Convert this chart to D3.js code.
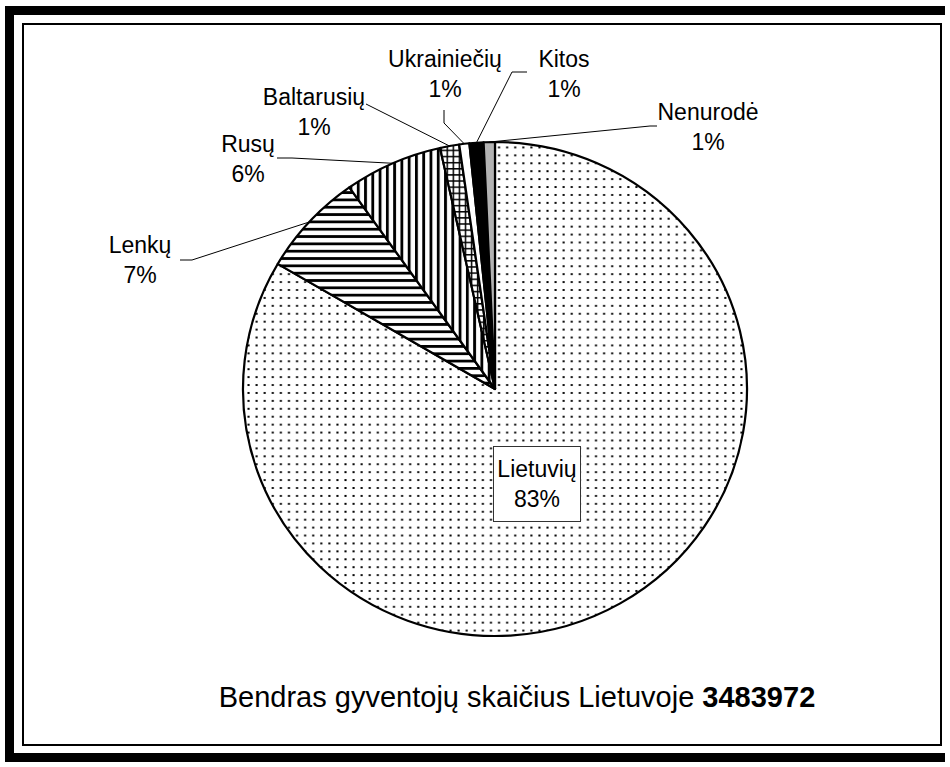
<!DOCTYPE html>
<html>
<head>
<meta charset="utf-8">
<script src="https://cdn.jsdelivr.net/npm/d3@7"></script>
<style>
  body { margin: 0; background: #fff; }
  text { font-family: 'Liberation Sans', Arial, sans-serif; fill: #000; }
</style>
</head>
<body>
<script>
const groups = ['Lietuvių', 'Lenkų', 'Rusų', 'Baltarusių', 'Ukrainiečių', 'Kitos', 'Nenurodė']
const shares = [83.45, 6.74, 6.31, 1.23, 0.65, 0.9, 0.72]
const total = 3483972
const titleText = 'Bendras gyventojų skaičius Lietuvoje '

const W = 950
const H = 767
const cx = 495
const cy = 389
const r = 249.5
const sx = 1.01
const sy = 0.99

// label layout: x, first baseline, leader start points
const labelPos = {
  'Lenkų': { x: 140, y: 253, lead: [[180, 260], [192, 260]] },
  'Rusų': { x: 248, y: 152, lead: [[277, 158], [292, 158]] },
  'Baltarusių': { x: 314, y: 105, lead: [[366, 104]] },
  'Ukrainiečių': { x: 445, y: 67, lead: [[444, 110], [444, 123]] },
  'Kitos': { x: 564, y: 67, lead: [[527, 72], [512, 72]] },
  'Nenurodė': { x: 708, y: 120, lead: [[657, 126], [650, 126]] }
}

const fills = {
  'Lietuvių': 'url(#dots)',
  'Lenkų': 'url(#hlines)',
  'Rusų': 'url(#vlines)',
  'Baltarusių': 'url(#grid)',
  'Ukrainiečių': '#fff',
  'Kitos': '#000',
  'Nenurodė': '#b3b3b3'
}

const svg = d3.select('body').append('svg')
  .attr('width', W)
  .attr('height', H)

const defs = svg.append('defs')

const dots = defs.append('pattern')
  .attr('id', 'dots')
  .attr('patternUnits', 'userSpaceOnUse')
  .attr('width', 8).attr('height', 8)
dots.append('rect').attr('width', 8).attr('height', 8).attr('fill', '#fff')
dots.append('rect').attr('x', 3).attr('y', 3).attr('width', 2).attr('height', 2).attr('fill', '#000')

const hl = defs.append('pattern')
  .attr('id', 'hlines')
  .attr('patternUnits', 'userSpaceOnUse')
  .attr('width', 8).attr('height', 7.4)
hl.append('rect').attr('width', 8).attr('height', 7.4).attr('fill', '#fff')
hl.append('rect').attr('y', 0).attr('width', 8).attr('height', 2.8).attr('fill', '#000')

const vl = defs.append('pattern')
  .attr('id', 'vlines')
  .attr('patternUnits', 'userSpaceOnUse')
  .attr('width', 7.2).attr('height', 8)
vl.append('rect').attr('width', 7.2).attr('height', 8).attr('fill', '#fff')
vl.append('rect').attr('x', 0).attr('width', 2.8).attr('height', 8).attr('fill', '#000')

const gr = defs.append('pattern')
  .attr('id', 'grid')
  .attr('patternUnits', 'userSpaceOnUse')
  .attr('width', 6).attr('height', 6.2)
gr.append('rect').attr('width', 6).attr('height', 6.2).attr('fill', '#fff')
gr.append('rect').attr('width', 1.5).attr('height', 6.2).attr('fill', '#000')
gr.append('rect').attr('width', 6).attr('height', 1.5).attr('fill', '#000')

// frames
svg.append('rect')
  .attr('x', 5).attr('y', 6).attr('width', 940).attr('height', 9).attr('fill', '#000')
svg.append('rect')
  .attr('x', 5).attr('y', 6).attr('width', 9).attr('height', 756).attr('fill', '#000')
svg.append('rect')
  .attr('x', 5).attr('y', 753).attr('width', 940).attr('height', 9).attr('fill', '#000')
svg.append('rect')
  .attr('x', 23).attr('y', 24).attr('width', 918).attr('height', 721)
  .attr('fill', 'none').attr('stroke', '#000').attr('stroke-width', 2)

const data = groups.map((g, i) => ({ name: g, value: shares[i] }))

const pie = d3.pie().sort(null).value(d => d.value)
const arcs = pie(data)

const arc = d3.arc().innerRadius(0).outerRadius(r)

const g = svg.append('g')
  .attr('transform', `translate(${cx},${cy}) scale(${sx},${sy})`)

g.selectAll('.slice')
  .data(arcs)
  .enter().append('path')
  .attr('class', 'slice')
  .attr('d', arc)
  .attr('fill', d => fills[d.data.name])
  .attr('stroke', '#000')
  .attr('stroke-width', 2.2)
  .attr('stroke-linejoin', 'round')

const pct = v => Math.round(v) + '%'

// leader lines + outside labels
const outer = arcs.filter(d => labelPos[d.data.name])

outer.forEach(d => {
  const p = labelPos[d.data.name]
  const a = (d.startAngle + d.endAngle) / 2
  const end = [cx + r * sx * Math.sin(a), cy - r * sy * Math.cos(a)]
  svg.append('path')
    .attr('d', d3.line()(p.lead.concat([end])))
    .attr('fill', 'none')
    .attr('stroke', '#000')
    .attr('stroke-width', 1)

  const t = svg.append('text')
    .attr('text-anchor', 'middle')
    .style('font-size', '23px')
  t.append('tspan').attr('x', p.x).attr('y', p.y).text(d.data.name)
  t.append('tspan').attr('x', p.x).attr('y', p.y + 30).text(pct(d.data.value))
})

// main slice label in a box
const main = arcs[0]
svg.append('rect')
  .attr('x', 493.5).attr('y', 446.5).attr('width', 87).attr('height', 75)
  .attr('fill', '#fff').attr('stroke', '#333').attr('stroke-width', 1)
const mt = svg.append('text')
  .attr('text-anchor', 'middle')
  .style('font-size', '23px')
mt.append('tspan').attr('x', 537).attr('y', 477).text(main.data.name)
mt.append('tspan').attr('x', 537).attr('y', 507).text(pct(main.data.value))

// bottom title
const title = svg.append('text')
  .attr('x', 517)
  .attr('y', 707)
  .attr('text-anchor', 'middle')
  .style('font-size', '29px')
title.append('tspan').text(titleText)
title.append('tspan').style('font-weight', 'bold').text(total)
</script>
</body>
</html>
